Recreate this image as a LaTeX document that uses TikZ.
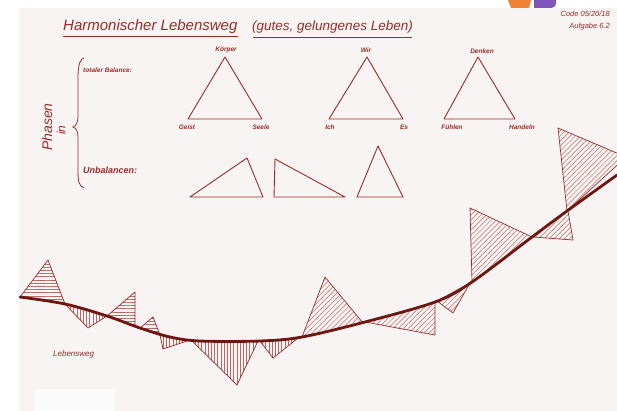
\documentclass[tikz,border=0pt]{standalone}
\usepackage{fontspec}
\setmainfont{Liberation Sans}
\usetikzlibrary{patterns.meta}
\definecolor{ink}{RGB}{150,45,40}
\definecolor{road}{RGB}{110,22,18}
\definecolor{hatchc}{RGB}{185,105,100}
\definecolor{paper}{RGB}{248,244,244}
\definecolor{logoA}{RGB}{240,130,50}
\definecolor{logoB}{RGB}{125,85,185}
\begin{document}
\begin{tikzpicture}[x=1pt,y=-1pt,
  hand/.style={text=ink,font=\itshape,inner sep=0pt},
  tri/.style={draw=ink,line width=0.9pt,line join=round},
  htri/.style={draw=ink,line width=0.7pt,line join=round},
  hh/.style={pattern={Lines[angle=0,distance=3.2pt,line width=0.45pt]},pattern color=hatchc},
  hv/.style={pattern={Lines[angle=90,distance=3.2pt,line width=0.45pt]},pattern color=hatchc},
  hd/.style={pattern={Lines[angle=45,distance=3.6pt,line width=0.5pt]},pattern color=hatchc},
  lbl/.style={hand,font=\itshape\bfseries\fontsize{6.5}{6.5}\selectfont}]
\useasboundingbox (0,0) rectangle (617,411);
\fill[white] (0,0) rectangle (617,411);
\fill[paper] (19,8) rectangle (617,411);
% logo fragments
\fill[logoA] (508,0) -- (531,0) -- (529,8) -- (511,8) -- cycle;
\fill[logoB] (534,0) -- (556,0) -- (556,3) .. controls (556,7) and (553,8) .. (549,8) -- (534,8) -- cycle;
% redaction box
\fill[white!60!paper] (35,389) rectangle (115,411);

% title
\node[hand,anchor=base west,font=\itshape\fontsize{15}{15}\selectfont] (t1) at (63,31) {Harmonischer Lebensweg};
\node[hand,anchor=base west,font=\itshape\fontsize{13.5}{13.5}\selectfont] (t2) at (252,31) {(gutes, gelungenes Leben)};
\draw[ink,line width=0.8pt] (63,36) -- (238,36);
\draw[ink,line width=0.8pt] (253,37) -- (412,37);
\node[hand,anchor=base east,font=\itshape\fontsize{7.5}{7.5}\selectfont] (code) at (610,17) {Code 05/20/18};
\node[hand,anchor=base east,font=\itshape\fontsize{7.5}{7.5}\selectfont] (aufg) at (610,29) {Aufgabe 6.2};

% left side
\node[hand,rotate=90,font=\itshape\fontsize{14}{14}\selectfont] (phasen) at (47,127) {Phasen};
\node[hand,rotate=90,font=\itshape\fontsize{12}{12}\selectfont] (in) at (61,130) {in};
\draw[ink,line width=0.8pt] (84,58) .. controls (77,60) and (78,75) .. (78,95) -- (78,115)
  .. controls (78,123) and (76,126) .. (73,127) .. controls (76,128) and (78,131) .. (78,139)
  -- (78,170) .. controls (78,182) and (79,186) .. (84,188);
\node[hand,anchor=base west,font=\itshape\bfseries\fontsize{6.5}{6.5}\selectfont] (bal) at (83,73) {totaler Balance:};
\node[hand,anchor=base west,font=\itshape\bfseries\fontsize{9}{9}\selectfont] (unbal) at (83,174) {Unbalancen:};

% balanced triangles
\draw[tri] (225,57) -- (188,119) -- (262,119) -- cycle;
\draw[tri] (367,57) -- (329,119) -- (403,119) -- cycle;
\draw[tri] (478,57) -- (444,119) -- (515,119) -- cycle;
\node[lbl] (k) at (226,50) {Körper};
\node[lbl] (g) at (187,127) {Geist};
\node[lbl] (s) at (261,127) {Seele};
\node[lbl] (w) at (366,50) {Wir};
\node[lbl] (i) at (330,127) {Ich};
\node[lbl] (e) at (404,127) {Es};
\node[lbl] (d) at (482,51) {Denken};
\node[lbl] (f) at (452,127) {Fühlen};
\node[lbl] (h) at (522,127) {Handeln};

% unbalanced triangles
\draw[tri] (190,197) -- (247,158) -- (263,197) -- cycle;
\draw[tri] (275,159) -- (274,197) -- (345,197) -- cycle;
\draw[tri] (378,146) -- (357,197) -- (403,197) -- cycle;

% hatched triangles along the path
\begin{scope}
\clip (19,8) rectangle (617,411);
\filldraw[htri,hh] (20,297) -- (48,260) -- (65,304) -- cycle;
\filldraw[htri,hv] (65,304) -- (88,328) -- (107,316) -- cycle;
\filldraw[htri,hh] (107,316) -- (135,292) -- (135,326) -- cycle;
\filldraw[htri,hh] (140,328) -- (153,317) -- (160,335) -- cycle;
\filldraw[htri,hv] (160,335) -- (163,349) -- (187,341) -- cycle;
\filldraw[htri,hv] (192,341) -- (237,385) -- (258,341) -- cycle;
\filldraw[htri,hv] (260,341) -- (273,358) -- (298,338) -- cycle;
\filldraw[htri,hd] (302,337) -- (325,277) -- (363,323) -- cycle;
\filldraw[htri,hd] (365,322) -- (435,335) -- (435,302) -- cycle;
\filldraw[htri,hd] (437,301) -- (453,313) -- (470,283) -- cycle;
\filldraw[htri,hd] (472,282) -- (470,208) -- (532,237) -- cycle;
\filldraw[htri,hd] (533,237) -- (573,240) -- (568,211) -- cycle;
\filldraw[htri,hd] (567,211) -- (558,128) -- (626,157) -- cycle;
% the path itself
\draw[road,line width=2.8pt,line cap=round] plot[smooth,tension=0.55] coordinates
  {(20,297) (65,304) (107,316) (140,328) (170,337) (200,341) (260,341) (302,337)
   (365,322) (435,302) (472,282) (532,237) (567,211) (617,175)};
\end{scope}
\node[hand,anchor=base west,font=\itshape\fontsize{8}{8}\selectfont] (leb) at (53,356) {Lebensweg};
\end{tikzpicture}
\end{document}
